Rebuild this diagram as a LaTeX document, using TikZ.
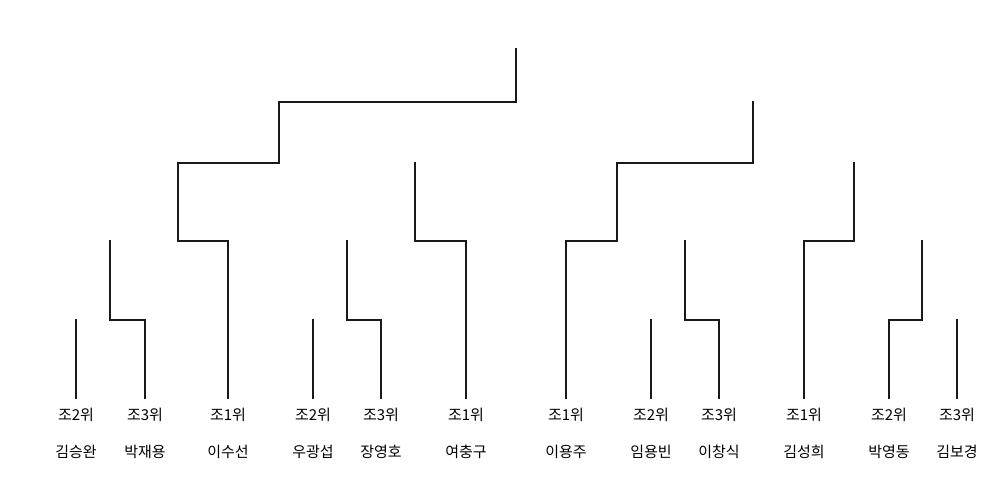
\documentclass[tikz,border=0pt]{standalone}
\usepackage{fontspec}
\newfontfamily\krfont{Noto Sans CJK KR}
\begin{document}
\begin{tikzpicture}[x=1pt,y=-1pt,
  brk/.style={line width=2pt,line cap=rect,black!90},
  lbl/.style={font=\krfont\fontsize{15}{15}\selectfont,inner sep=0pt,anchor=center}]
\useasboundingbox[fill=white] (0,0) rectangle (983,500);
% players: name, x, rank
\foreach \n/\x/\rk in {a/76/2,b/145/3,c/228/1,d/313/2,e/381/3,f/466/1,g/566/1,h/651/2,i/719/3,j/804/1,k/889/2,l/957/3}{
  \node[lbl] (r\n) at (\x,415) {조\rk{}위};
  \coordinate (p\n) at (\x,398);
}
\node[lbl] (na) at (76,452) {김승완};
\node[lbl] (nb) at (145,452) {박재용};
\node[lbl] (nc) at (228,452) {이수선};
\node[lbl] (nd) at (313,452) {우광섭};
\node[lbl] (ne) at (381,452) {장영호};
\node[lbl] (nf) at (466,452) {여충구};
\node[lbl] (ng) at (566,452) {이용주};
\node[lbl] (nh) at (651,452) {임용빈};
\node[lbl] (ni) at (719,452) {이창식};
\node[lbl] (nj) at (804,452) {김성희};
\node[lbl] (nk) at (889,452) {박영동};
\node[lbl] (nl) at (957,452) {김보경};
% tops
\coordinate (ta) at (76,320);
\coordinate (tb) at (110,241);
\coordinate (tc) at (516,49);
\coordinate (td) at (313,320);
\coordinate (te) at (347,241);
\coordinate (tf) at (415,163);
\coordinate (tg) at (753,102);
\coordinate (th) at (651,320);
\coordinate (ti) at (685,241);
\coordinate (tj) at (854,163);
\coordinate (tk) at (922,241);
\coordinate (tl) at (957,320);
% brackets
\draw[brk] (pa) -- (ta);
\draw[brk] (pb) -- (145,320) -- (110,320) -- (tb);
\draw[brk] (pc) -- (228,241) -- (178,241) -- (178,163) -- (279,163) -- (279,102) -- (516,102) -- (tc);
\draw[brk] (pd) -- (td);
\draw[brk] (pe) -- (381,320) -- (347,320) -- (te);
\draw[brk] (pf) -- (466,241) -- (415,241) -- (tf);
\draw[brk] (pg) -- (566,241) -- (617,241) -- (617,163) -- (753,163) -- (tg);
\draw[brk] (ph) -- (th);
\draw[brk] (pi) -- (719,320) -- (685,320) -- (ti);
\draw[brk] (pj) -- (804,241) -- (854,241) -- (tj);
\draw[brk] (pk) -- (889,320) -- (922,320) -- (tk);
\draw[brk] (pl) -- (tl);
\end{tikzpicture}
\end{document}
